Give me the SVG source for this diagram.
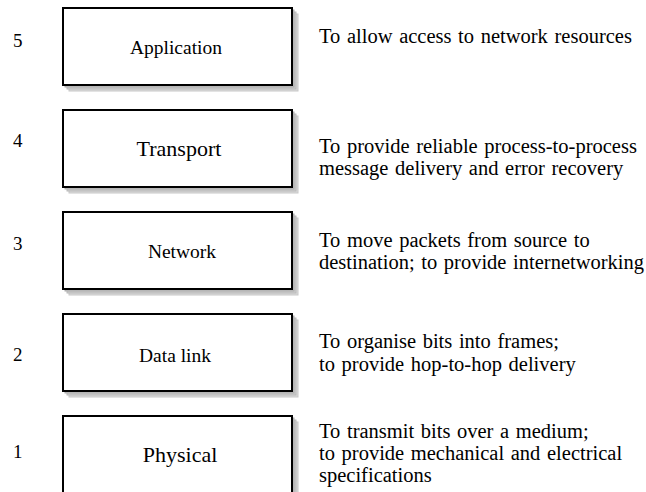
<svg xmlns="http://www.w3.org/2000/svg" width="646" height="492" viewBox="0 0 646 492">
  <style>
    .num { font-family: "Liberation Serif", "Times New Roman", serif; font-size: 19px; fill: #000; }
    .lbl { font-family: "Liberation Serif", "Times New Roman", serif; fill: #000; text-anchor: middle; }
    .desc { font-family: "Liberation Serif", "Times New Roman", serif; font-size: 20.5px; fill: #000; }
    .box { fill: #fff; stroke: #000; stroke-width: 2; }
    .sh3 { fill: #dadada; stroke: #c8c8c8; stroke-width: 1; }
    .sh2 { fill: #cbcbcb; stroke: #bababa; stroke-width: 1; }
    .sh1 { fill: #bfbfbf; stroke: #adadad; stroke-width: 1; }
  </style>
  <defs>
    <!-- layer box with its stacked drop shadow, placed by x/y on <use> -->
    <g id="layerBox">
      <rect class="sh3" x="6" y="6" width="229" height="77"/>
      <rect class="sh2" x="4" y="4" width="229" height="77"/>
      <rect class="sh1" x="2" y="2" width="229" height="77"/>
      <rect class="box" x="0" y="0" width="229" height="77"/>
    </g>
  </defs>
  <rect width="646" height="492" fill="#fff"/>

  <g id="layer5">
    <use href="#layerBox" x="63" y="8"/>
    <text class="num" x="13" y="47">5</text>
    <text class="lbl" x="176" y="54" font-size="19.5">Application</text>
    <text class="desc" x="319" y="43" word-spacing="1.5">To allow access to network resources</text>
  </g>

  <g id="layer4">
    <use href="#layerBox" x="63" y="110"/>
    <text class="num" x="13" y="147">4</text>
    <text class="lbl" x="179" y="156" font-size="22">Transport</text>
    <text class="desc" x="319" y="153" word-spacing="1.5">To provide reliable process-to-process</text>
    <text class="desc" x="319" y="175" word-spacing="1.5">message delivery and error recovery</text>
  </g>

  <g id="layer3">
    <use href="#layerBox" x="63" y="212"/>
    <text class="num" x="13" y="250">3</text>
    <text class="lbl" x="182" y="258" font-size="19.5">Network</text>
    <text class="desc" x="319" y="247" word-spacing="1.5">To move packets from source to</text>
    <text class="desc" x="319" y="269" word-spacing="1.5">destination; to provide internetworking</text>
  </g>

  <g id="layer2">
    <use href="#layerBox" x="63" y="314"/>
    <text class="num" x="13" y="361">2</text>
    <text class="lbl" x="175" y="362" font-size="19.5">Data link</text>
    <text class="desc" x="319" y="348" word-spacing="1.5">To organise bits into frames;</text>
    <text class="desc" x="319" y="371" word-spacing="1.5">to provide hop-to-hop delivery</text>
  </g>

  <g id="layer1">
    <use href="#layerBox" x="63" y="416"/>
    <text class="num" x="13" y="458">1</text>
    <text class="lbl" x="180" y="462" font-size="22">Physical</text>
    <text class="desc" x="319" y="438" word-spacing="1.5">To transmit bits over a medium;</text>
    <text class="desc" x="319" y="460" word-spacing="1.5">to provide mechanical and electrical</text>
    <text class="desc" x="319" y="482">specifications</text>
  </g>
</svg>
